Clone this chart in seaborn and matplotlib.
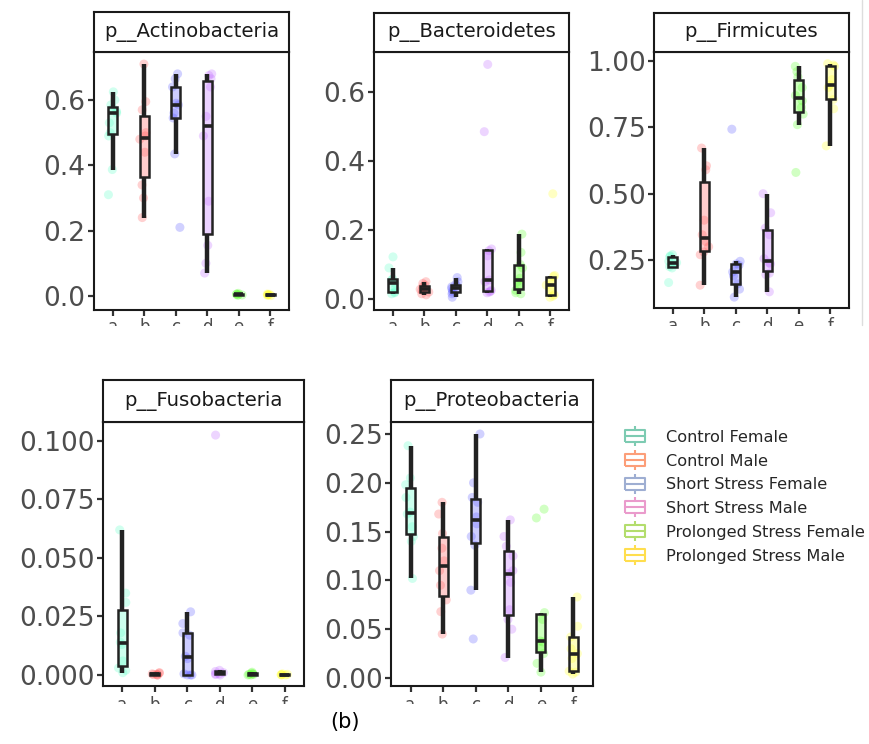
import numpy as np
import pandas as pd
import matplotlib
matplotlib.use("Agg")
import matplotlib.pyplot as plt
import seaborn as sns
from matplotlib.path import Path
from matplotlib.lines import Line2D
from matplotlib.patches import Rectangle

# ---------------- data ----------------
groups = ["Control Female", "Control Male", "Short Stress Female",
          "Short Stress Male", "Prolonged Stress Female", "Prolonged Stress Male"]
group_letters = ["a", "b", "c", "d", "e", "f"]
phyla = ["p__Actinobacteria", "p__Bacteroidetes", "p__Firmicutes",
         "p__Fusobacteria", "p__Proteobacteria"]

actinobacteria = [
    [0.625, 0.60, 0.585, 0.575, 0.565, 0.56, 0.53, 0.50, 0.49, 0.387, 0.31],
    [0.71, 0.595, 0.57, 0.50, 0.49, 0.48, 0.44, 0.34, 0.30, 0.24],
    [0.68, 0.665, 0.64, 0.59, 0.585, 0.56, 0.545, 0.435, 0.21],
    [0.68, 0.675, 0.665, 0.64, 0.55, 0.49, 0.29, 0.155, 0.10, 0.07],
    [0.002, 0.004, 0.005, 0.006, 0.008, 0.003],
    [0.001, 0.003, 0.004, 0.005, 0.006, 0.002],
]
bacteroidetes = [
    [0.122, 0.09, 0.058, 0.055, 0.045, 0.03, 0.02, 0.018, 0.015],
    [0.05, 0.045, 0.04, 0.035, 0.03, 0.028, 0.025, 0.02, 0.015, 0.012],
    [0.062, 0.05, 0.042, 0.038, 0.035, 0.03, 0.025, 0.02, 0.015, 0.005],
    [0.68, 0.485, 0.145, 0.14, 0.125, 0.055, 0.05, 0.025, 0.022, 0.02, 0.018],
    [0.188, 0.135, 0.10, 0.09, 0.06, 0.05, 0.04, 0.025, 0.018, 0.015],
    [0.305, 0.068, 0.065, 0.05, 0.04, 0.03, 0.012, 0.008, 0.005],
]
firmicutes = [
    [0.27, 0.265, 0.262, 0.245, 0.24, 0.232, 0.225, 0.22, 0.165],
    [0.672, 0.605, 0.59, 0.40, 0.345, 0.32, 0.30, 0.28, 0.27, 0.155],
    [0.743, 0.245, 0.235, 0.23, 0.205, 0.19, 0.16, 0.14, 0.11],
    [0.50, 0.428, 0.37, 0.345, 0.255, 0.24, 0.235, 0.20, 0.195, 0.13],
    [0.98, 0.96, 0.94, 0.90, 0.87, 0.85, 0.825, 0.80, 0.76, 0.58],
    [0.99, 0.985, 0.98, 0.93, 0.91, 0.90, 0.855, 0.82, 0.68],
]
fusobacteria = [
    [0.062, 0.035, 0.031, 0.018, 0.014, 0.013, 0.006, 0.003, 0.002, 0.001],
    [0.0, 0.0005, 0.001, 0.0, 0.0002, 0.0008, 0.0003],
    [0.027, 0.022, 0.018, 0.017, 0.008, 0.007, 0.0005, 0.0, 0.0, 0.0],
    [0.1025, 0.002, 0.0015, 0.001, 0.0005, 0.0005, 0.0002, 0.0],
    [0.0, 0.0003, 0.0008, 0.0012, 0.0005, 0.0002, 0.0],
    [0.0, 0.0002, 0.0005, 0.0003, 0.0001, 0.0],
]
proteobacteria = [
    [0.238, 0.205, 0.198, 0.185, 0.17, 0.168, 0.155, 0.145, 0.14, 0.102],
    [0.18, 0.168, 0.148, 0.133, 0.12, 0.11, 0.095, 0.08, 0.068, 0.045],
    [0.25, 0.20, 0.185, 0.18, 0.165, 0.158, 0.145, 0.136, 0.09, 0.04],
    [0.162, 0.145, 0.135, 0.125, 0.11, 0.107, 0.098, 0.07, 0.06, 0.05, 0.021],
    [0.173, 0.164, 0.067, 0.06, 0.038, 0.037, 0.03, 0.025, 0.015, 0.006],
    [0.083, 0.053, 0.042, 0.03, 0.025, 0.02, 0.007, 0.006, 0.004],
]
phylum_values = [actinobacteria, bacteroidetes, firmicutes, fusobacteria, proteobacteria]

y_limits = [(-0.043, 0.747), (-0.032, 0.716), (0.069, 1.034),
            (-0.0047, 0.1081), (-0.0082, 0.2623)]
y_ticks = [[0.0, 0.2, 0.4, 0.6], [0.0, 0.2, 0.4, 0.6],
           [0.25, 0.50, 0.75, 1.00],
           [0.0, 0.025, 0.05, 0.075, 0.1],
           [0.0, 0.05, 0.10, 0.15, 0.20, 0.25]]
y_tick_labels = [["0.0", "0.2", "0.4", "0.6"], ["0.0", "0.2", "0.4", "0.6"],
                 ["0.25", "0.50", "0.75", "1.00"],
                 ["0.000", "0.025", "0.050", "0.075", "0.100"],
                 ["0.00", "0.05", "0.10", "0.15", "0.20", "0.25"]]

point_colors = ["#5CFFC8", "#FF5A5A", "#5A5AFF", "#C06BFF", "#5AFF2A", "#FFFF2A"]
legend_colors = ["#66C2A5", "#FC8D62", "#8DA0CB", "#E78AC3", "#A6D854", "#FFD92F"]

# ---------------- layout (pixels) ----------------
W, H = 870, 744
# (left, top, right, bottom) of plotting area, strip top
panels_px = [(94, 52, 289, 310, 12), (374, 52, 569, 310, 13), (654, 52, 849, 308, 13),
             (103, 422, 304, 686, 380), (391, 422, 593, 686, 380)]
# band under each panel where the letters are cut off in the original figure
cut_rows = [(326, 342), (326, 342), (326, 342), (704, 717), (704, 717)]
x_pads = [1.0, 1.0, 2.2, 3.0, 3.0]

sns.set_style("white")
plt.rcParams["font.family"] = ["DejaVu Sans"]

fig = plt.figure(figsize=(W / 100, H / 100), dpi=100)
np.random.seed(3)

for i, (name, vals) in enumerate(zip(phyla, phylum_values)):
    l, t, r, b, st = panels_px[i]
    ax = fig.add_axes([l / W, 1 - b / H, (r - l) / W, (b - t) / H])
    rows = []
    for g, v in zip(groups, vals):
        for x in v:
            rows.append((g, x))
    df = pd.DataFrame(rows, columns=["group", "value"])

    sns.stripplot(data=df, x="group", y="value", hue="group", order=groups,
                  hue_order=groups, palette=point_colors, jitter=0.15, size=6.5,
                  alpha=0.28, linewidth=0, legend=False, ax=ax, zorder=1)
    sns.boxplot(data=df, x="group", y="value", hue="group", order=groups,
                hue_order=groups, palette=point_colors, saturation=1, width=0.28,
                showfliers=False, showcaps=False, linecolor="#222222", linewidth=1.8,
                whiskerprops=dict(linewidth=3.2), medianprops=dict(linewidth=2.6),
                legend=False, ax=ax)
    for p in ax.patches:
        fc = p.get_facecolor()
        p.set_facecolor((fc[0], fc[1], fc[2], 0.3))
        p.set_zorder(2)

    ax.set_xlim(-0.6, 5.6)
    ax.set_ylim(*y_limits[i])
    ax.set_yticks(y_ticks[i])
    ax.set_yticklabels(y_tick_labels[i])
    ax.set_xticks(range(6))
    ax.set_xticklabels(group_letters)
    ax.set_xlabel("")
    ax.set_ylabel("")
    ax.tick_params(axis="both", which="both", direction="out", length=4.5, width=1.6,
                   color="#333333", labelcolor="#4D4D4D", labelsize=19, pad=1.5,
                   left=True, bottom=True)
    ax.tick_params(axis="x", pad=x_pads[i], labelsize=12)
    for s in ax.spines.values():
        s.set_visible(True)
        s.set_color("#1A1A1A")
        s.set_linewidth(1.5)

    # only the tops of the group letters show in the original (cropped) figure
    c0, c1 = cut_rows[i]
    fig.add_artist(Rectangle(((l - 12) / W, 1 - c1 / H), (r - l + 24) / W,
                             (c1 - c0) / H, transform=fig.transFigure,
                             facecolor="white", edgecolor="none", zorder=10))

    # facet strip
    sax = fig.add_axes([l / W, 1 - t / H, (r - l) / W, (t - st) / H])
    sax.set_xticks([])
    sax.set_yticks([])
    sax.set_facecolor("white")
    for s in sax.spines.values():
        s.set_visible(True)
        s.set_color("#1A1A1A")
        s.set_linewidth(1.5)
    sax.text(0.5, 0.5, name, ha="center", va="center", fontsize=14.2,
             color="#1A1A1A", transform=sax.transAxes)

# legend with box-glyph keys
verts = [(-0.5, -0.33), (0.5, -0.33), (0.5, 0.33), (-0.5, 0.33), (-0.5, -0.33),
         (-0.5, 0.0), (0.5, 0.0),
         (0.0, 0.33), (0.0, 0.5),
         (0.0, -0.33), (0.0, -0.5)]
codes = [Path.MOVETO, Path.LINETO, Path.LINETO, Path.LINETO, Path.LINETO,
         Path.MOVETO, Path.LINETO,
         Path.MOVETO, Path.LINETO,
         Path.MOVETO, Path.LINETO]
box_marker = Path(verts, codes)
handles = [Line2D([], [], linestyle="none", marker=box_marker, markersize=14,
                  markerfacecolor="none", markeredgecolor=c, markeredgewidth=1.5,
                  alpha=0.85)
           for c in legend_colors]
fig.legend(handles, groups, loc="upper left",
           bbox_to_anchor=(627 / W, 1 - 430 / H), frameon=False,
           fontsize=11.6, handlelength=1.0, handletextpad=1.45,
           labelspacing=0.54, borderpad=0, borderaxespad=0)

fig.text(345 / W, 1 - 722 / H, "(b)", ha="center", va="center", fontsize=15,
         color="black")
fig.add_artist(Line2D([862 / W, 862 / W], [1.0, 1 - 325 / H],
                      transform=fig.transFigure, color="#DDDDDD", linewidth=1))

fig.savefig("out.png", dpi=100)
